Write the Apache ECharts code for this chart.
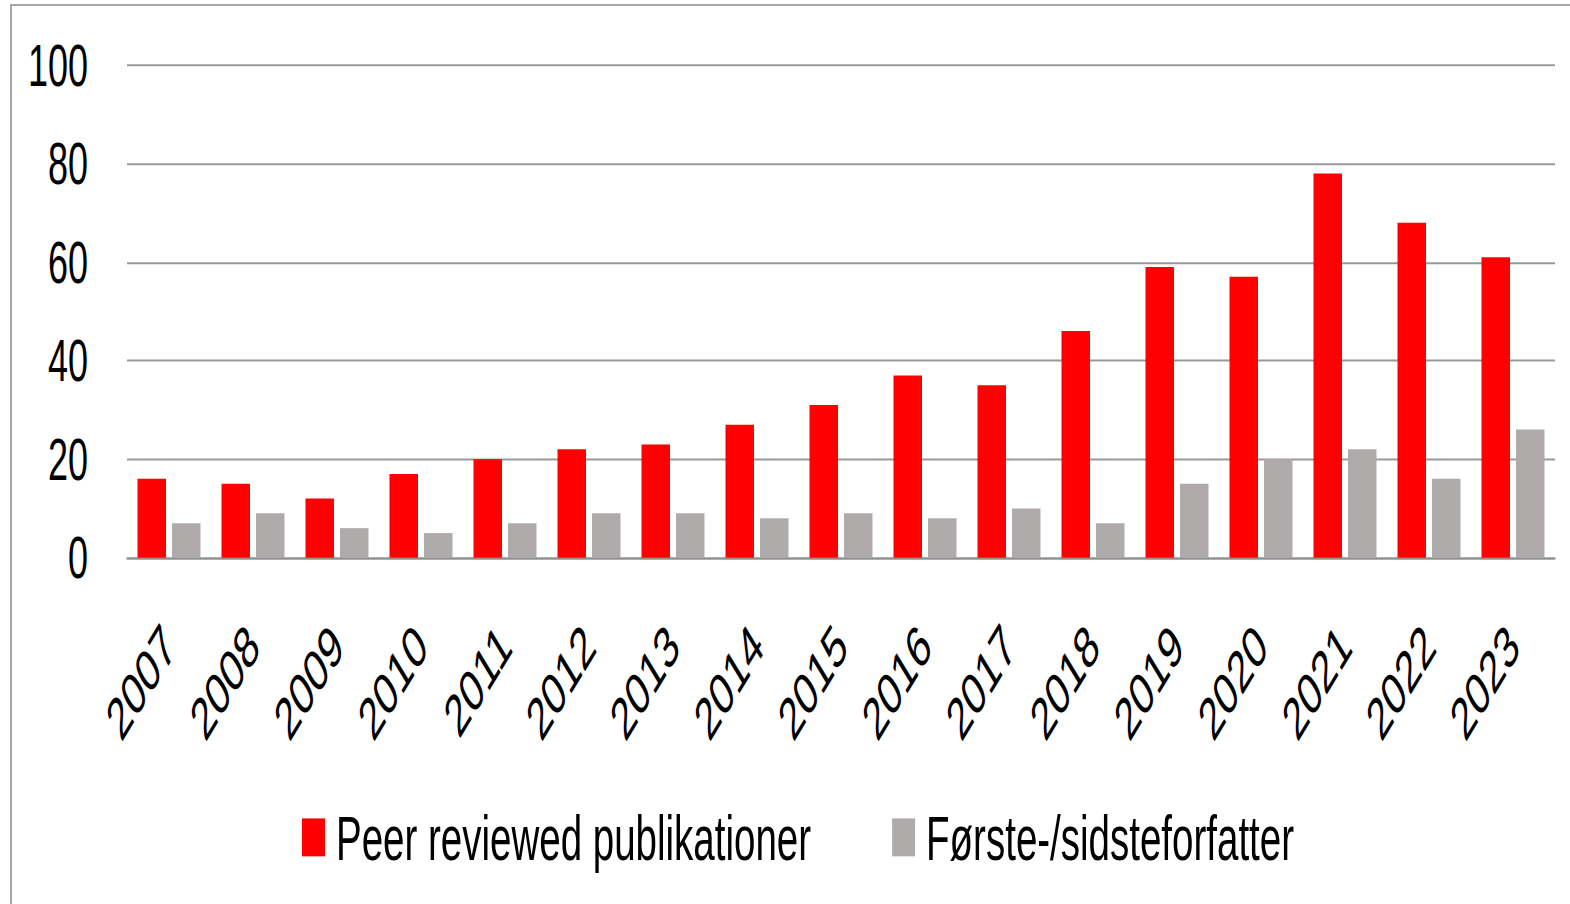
<!DOCTYPE html>
<html>
<head>
<meta charset="utf-8">
<script src="https://cdn.jsdelivr.net/npm/echarts@6/dist/echarts.min.js"></script>
<style>
	html, body { margin:0; padding:0; background:#fff; overflow:hidden; }
	#wrap { position:relative; width:1570px; height:904px; overflow:hidden; }
	#frame { position:absolute; left:10px; top:4px; width:1600px; height:1000px; border:2px solid #a6a6a6; box-sizing:border-box; }
	/* original picture is stretched vertically, so the chart is drawn flat and scaled */
	#chart { position:absolute; left:0; top:0; width:1570px; height:548px; transform:scaleY(1.65); transform-origin:0 0; }
</style>
</head>
<body>
<div id="wrap">
	<div id="frame"></div>
	<div id="chart"></div>
</div>
<script>
var years = ['2007','2008','2009','2010','2011','2012','2013','2014','2015','2016','2017','2018','2019','2020','2021','2022','2023'];
var peerData = [16,15,12,17,20,22,23,27,31,37,35,46,59,57,78,68,61];
var firstLastData = [7,9,6,5,7,9,9,8,9,8,10,7,15,20,22,16,26];
var seriesNames = ['Peer reviewed publikationer','Første-/sidsteforfatter'];
var yTicks = [0,20,40,60,80,100];

var chart = echarts.init(document.getElementById('chart'), null, {renderer:'svg'});

var fontName = '"Liberation Sans", Arial, sans-serif';
var option = {
	animation:false,
	grid:{
		left:127,
		right:15,
		top:39.4,
		bottom:210
	},
	legend:{
		data:seriesNames,
		left:297,
		top:483,
		itemWidth:23,
		itemHeight:23,
		itemGap:81,
		icon:'rect',
		textStyle:{
			fontFamily:fontName,
			fontSize:38.5,
			color:'#000',
			padding:[0,0,0,6]
		}
	},
	xAxis:{
		type:'category',
		data:years,
		axisTick:{show:false},
		axisLine:{lineStyle:{color:'#8f8f8f', width:1.2}},
		axisLabel:{
			rotate:45,
			margin:47,
			interval:0,
			fontFamily:fontName,
			fontSize:36,
			color:'#000'
		}
	},
	yAxis:{
		type:'value',
		min:yTicks[0],
		max:yTicks[yTicks.length-1],
		interval:20,
		axisLine:{show:false},
		axisTick:{show:false},
		splitLine:{lineStyle:{color:'#999', width:1.2}},
		axisLabel:{
			margin:39,
			fontFamily:fontName,
			fontSize:36,
			color:'#000'
		}
	},
	series:[{
		name:seriesNames[0],
		type:'bar',
		barGap:'21%',
		barCategoryGap:'25%',
		itemStyle:{color:'#ff0000'},
		data:peerData
	},{
		name:seriesNames[1],
		type:'bar',
		itemStyle:{color:'#afabab'},
		data:firstLastData
	}]
};
chart.setOption(option);
</script>
</body>
</html>
